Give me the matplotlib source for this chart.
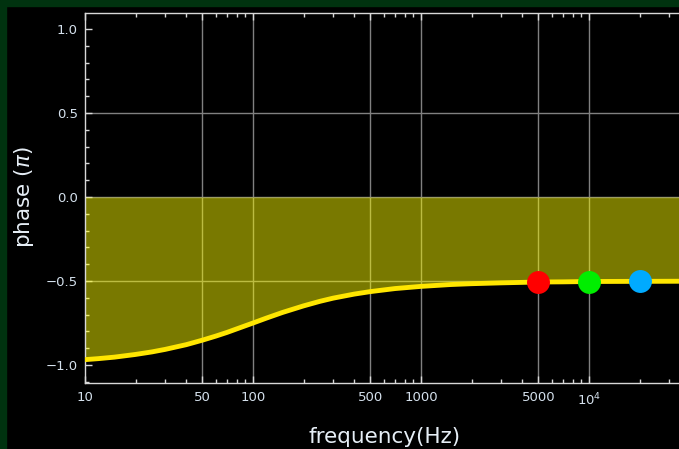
import matplotlib
matplotlib.use("Agg")
import matplotlib.pyplot as plt
from matplotlib.patches import Rectangle
from matplotlib.ticker import FixedLocator, NullFormatter

# Phase response (in units of pi) versus frequency
freq_hz = [10, 12, 15, 20, 25, 30, 40, 50, 60, 70, 80, 100, 120, 150, 200, 250,
           300, 400, 500, 700, 1000, 1500, 2000, 3000, 5000, 7000, 10000,
           20000, 50000, 100000]
phase_pi = [-0.968, -0.962, -0.953, -0.937, -0.922, -0.907, -0.879, -0.852,
            -0.828, -0.806, -0.785, -0.750, -0.721, -0.687, -0.648, -0.621,
            -0.602, -0.578, -0.563, -0.545, -0.532, -0.521, -0.516, -0.511,
            -0.506, -0.505, -0.503, -0.502, -0.501, -0.500]

# Highlighted frequencies
marker_freq = [5000, 10000, 20000]
marker_phase = [-0.506, -0.503, -0.502]
marker_colors = ["#ff0000", "#00ee00", "#00aaff"]

xtick_values = [10, 50, 100, 500, 1000, 5000, 10000]
xtick_labels = ["10", "50", "100", "500", "1000", "5000", "$10^4$"]
ytick_values = [-1.0, -0.5, 0.0, 0.5, 1.0]
ytick_labels = ["\u22121.0", "\u22120.5", "0.0", "0.5", "1.0"]
vgrid = [50, 100, 500, 1000, 5000, 10000]
hgrid = [-0.5, 0.0, 0.5]

W, H = 679, 449
fig = plt.figure(figsize=(W / 100, H / 100), dpi=100, facecolor="black")

# dark green frame strips
frame_green = "#00320f"
fig.patches.append(Rectangle((0, 0), 6 / W, 1, transform=fig.transFigure,
                             color=frame_green, zorder=0))
fig.patches.append(Rectangle((0, 1 - 6 / H), 1, 6 / H, transform=fig.transFigure,
                             color=frame_green, zorder=0))

left_px, top_px, bottom_px = 85, 13, 383
decade_px = 168
right_px = left_px + 4 * decade_px
ax = fig.add_axes([left_px / W, 1 - bottom_px / H,
                   (right_px - left_px) / W, (bottom_px - top_px) / H])
ax.set_facecolor("black")
ax.set_xscale("log")
ax.set_xlim(10, 100000)
ax.set_ylim(-1.107, 1.095)

grid_color = "#808080"
for gx in vgrid:
    ax.axvline(gx, color=grid_color, lw=1.0, zorder=1)
for gy in hgrid:
    ax.axhline(gy, color=grid_color, lw=1.0, zorder=1)

ax.fill_between(freq_hz, phase_pi, 0, color="#ffff00", alpha=0.48,
                lw=0, zorder=2)
ax.plot(freq_hz, phase_pi, color="#ffe600", lw=3.5, zorder=3,
        solid_capstyle="butt")

for fx, fy, c in zip(marker_freq, marker_phase, marker_colors):
    ax.plot([fx], [fy], "o", color=c, markersize=16.5, mec="none", zorder=4)

spine_color = "#d8d8d8"
for s in ax.spines.values():
    s.set_color(spine_color)
    s.set_linewidth(1.0)

ax.xaxis.set_major_locator(FixedLocator(xtick_values))
ax.set_xticklabels(xtick_labels)
minor_x = [m * 10 ** e for e in range(1, 5) for m in range(2, 10)]
minor_x = [v for v in minor_x if v not in xtick_values]
ax.xaxis.set_minor_locator(FixedLocator(minor_x))
ax.xaxis.set_minor_formatter(NullFormatter())

ax.set_yticks(ytick_values)
ax.set_yticklabels(ytick_labels)
ax.yaxis.set_minor_locator(FixedLocator([i / 10 for i in range(-11, 11)]))

label_color = "#d4e0ec"
ax.tick_params(which="both", direction="in", color=spine_color,
               top=True, right=True, labelsize=9.5, labelcolor=label_color)
ax.tick_params(which="major", length=5, width=1.0)
ax.tick_params(which="minor", length=3, width=1.0)
ax.tick_params(axis="x", pad=6)
ax.tick_params(axis="y", pad=5)

fig.text(24 / W, 1 - 197 / H, "phase ($\\pi$)", rotation=90, color="#e6eef6",
         fontsize=15.5, ha="center", va="center")
fig.text(385 / W, 1 - 437 / H, "frequency(Hz)", color="#e6eef6",
         fontsize=15.5, ha="center", va="center")

fig.savefig("out.png", dpi=100, facecolor="black")
